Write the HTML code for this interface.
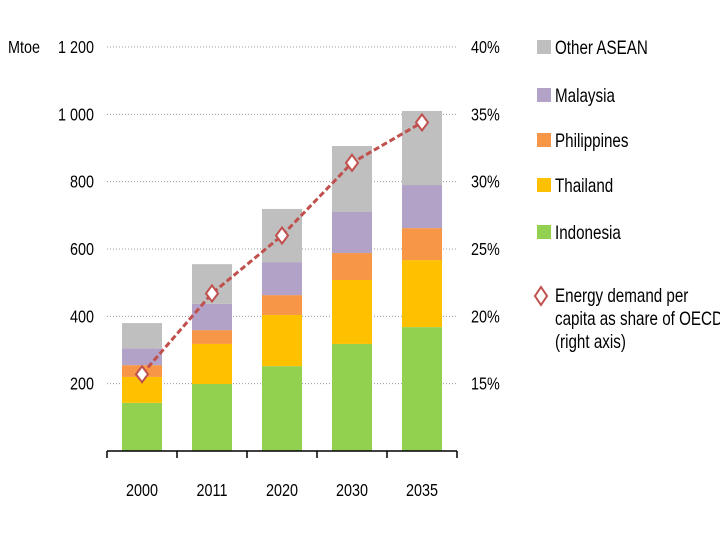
<!DOCTYPE html>
<html><head><meta charset="utf-8"><style>
body{margin:0;background:#fff;}
svg{display:block;font-family:"Liberation Sans",sans-serif;}
</style></head><body>
<svg id="chart" width="720" height="540">
<g id="grid"></g>
<g id="bars"></g>
<g id="axes"></g>
<g id="line"></g>
<g id="legend"></g>
</svg>
<script>
const categories=["2000","2011","2020","2030","2035"];
const indonesia=[143,199,252,318,368];
const thailand=[77,119,152,190,199];
const philippines=[35,41,59,80,95];
const malaysia=[50,78,98,122,128];
const otherAsean=[75,118,158,196,220];
const sharePct=[15.7,21.7,26.0,31.4,34.4];
const leftTicks=[200,400,600,800,1000,1200];
const leftTickLabels=["200","400","600","800","1 000","1 200"];
const rightTicks=[15,20,25,30,35,40];
const seriesNames=["Indonesia","Thailand","Philippines","Malaysia","Other ASEAN"];
const seriesColors=["#92d050","#ffc000","#f79646","#b3a2c7","#bfbfbf"];
const NS="http://www.w3.org/2000/svg";
const y0=451,yTop=47,SX=0.8;
const yL=v=>y0-(v/1200)*(y0-yTop);
const yR=p=>y0-((p-10)/30)*(y0-yTop);
const xC=i=>142+i*70;
function mk(tag,parent,attrs,text){const e=document.createElementNS(NS,tag);for(const k in attrs)e.setAttribute(k,attrs[k]);if(text!==undefined)e.textContent=text;document.getElementById(parent).appendChild(e);return e;}
function txt(parent,x,y,s,anchor,size){return mk("text",parent,{transform:`translate(${x},${y}) scale(${SX},1)`,"text-anchor":anchor||"start","font-size":size||18,fill:"#000"},s);}
leftTicks.forEach((t,i)=>{
 const g=mk("line","grid",{x1:107,x2:457,y1:yL(t),y2:yL(t),stroke:"#999","stroke-dasharray":"1,2","stroke-width":1});
 
 const l=txt("axes",94,yL(t)+6,leftTickLabels[i],"end");
 
});
rightTicks.forEach(t=>{
 const l=txt("axes",471,yR(t)+6,t+"%");
 
});
const u=txt("axes",8,53,"Mtoe");

const series=[indonesia,thailand,philippines,malaysia,otherAsean];
categories.forEach((c,i)=>{
 let cum=0;
 series.forEach((s,k)=>{
  const r=mk("rect","bars",{x:xC(i)-20,y:yL(cum+s[i]),width:40,height:yL(cum)-yL(cum+s[i]),fill:seriesColors[k]});
  
  
  cum+=s[i];
 });
 const l=txt("axes",xC(i),496,c,"middle");
 
});
const ax=mk("line","axes",{x1:107,x2:457,y1:y0,y2:y0,stroke:"#000","stroke-width":1.5});

for(let i=0;i<=categories.length;i++){
 const t=mk("line","axes",{x1:107+i*70,x2:107+i*70,y1:y0,y2:y0+7,stroke:"#000","stroke-width":1.5});
 
}
const pts=sharePct.map((p,i)=>xC(i)+","+yR(p)).join(" ");
const pl=mk("polyline","line",{points:pts,fill:"none",stroke:"#c0504d","stroke-width":3,"stroke-dasharray":"6,3"});

sharePct.forEach((p,i)=>{
 const x=xC(i),y=yR(p);
 const d=mk("polygon","line",{points:`${x},${y-8} ${x+6},${y} ${x},${y+8} ${x-6},${y}`,fill:"#fff",stroke:"#c0504d","stroke-width":2});
 
});
const legY=[233,186,141,96,48];
seriesNames.forEach((n,k)=>{
 const r=mk("rect","legend",{x:537,y:legY[k]-8,width:14,height:14,fill:seriesColors[k]});
 
 const t=txt("legend",555,legY[k]+6,n,"start",19);
 
});
const ld=mk("polygon","legend",{points:"541,287 547,296 541,305 535,296",fill:"#fff",stroke:"#c0504d","stroke-width":2});

["Energy demand per","capita as share of OECD","(right axis)"].forEach((s,i)=>{
 const t=txt("legend",555,302+i*23,s,"start",19);
 
});
</script>
</body></html>
